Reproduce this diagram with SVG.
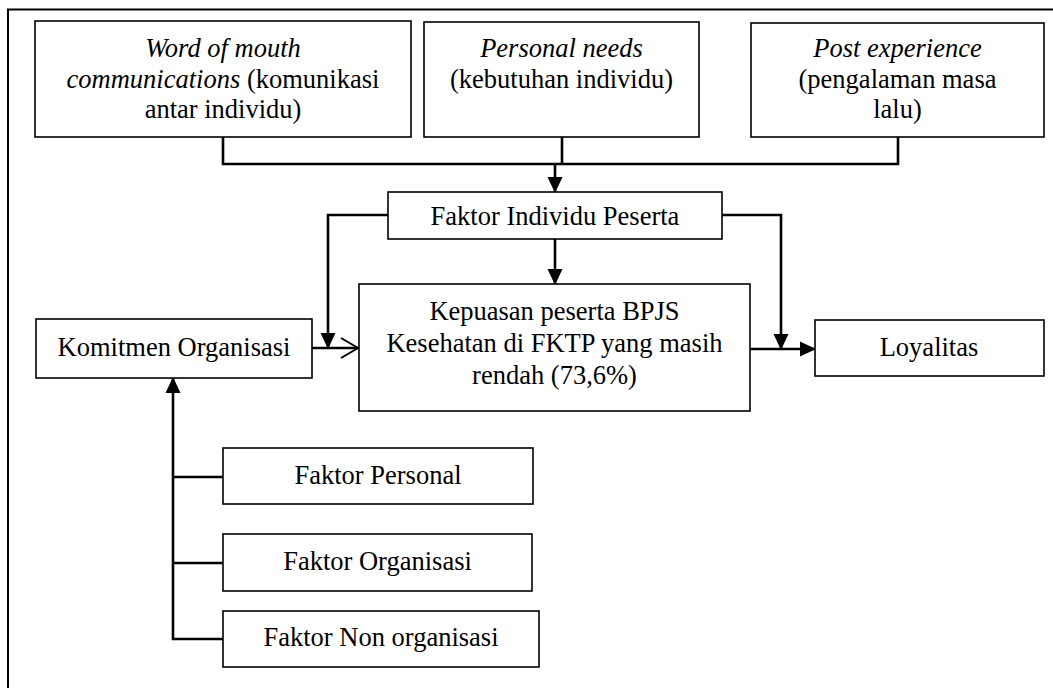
<svg xmlns="http://www.w3.org/2000/svg" width="1053" height="688" viewBox="0 0 1053 688">
<style>
.box{fill:#fff;stroke:#000;stroke-width:1.6}
.t{font-family:"Liberation Serif","Times New Roman",serif;font-size:26.5px;fill:#000;text-anchor:middle}
.i{font-style:italic}
.c{fill:none;stroke:#000;stroke-width:2.6}
</style>
<defs>
<marker id="ah" markerWidth="16" markerHeight="16" refX="15" refY="8" orient="auto" markerUnits="userSpaceOnUse" viewBox="0 0 16 16">
<path d="M0,0.5 L16,8 L0,15.5 Z" fill="#000"/>
</marker>
<marker id="open" markerWidth="20" markerHeight="22" refX="18" refY="11" orient="auto" markerUnits="userSpaceOnUse" viewBox="0 0 20 22">
<path d="M1,1 L18,11 L1,21" fill="none" stroke="#000" stroke-width="2"/>
</marker>
</defs>
<rect width="1053" height="688" fill="#fff"/>
<g id="frame"><path d="M8,688 V9.5 H1053" fill="none" stroke="#000" stroke-width="2"/></g>
<g id="connectors">
<path class="c" d="M223,137 V164 H898 V137"/>
<path class="c" d="M562,137 V164"/>
<path class="c" d="M555,164 V192" marker-end="url(#ah)"/>
<path class="c" d="M555,239 V284" marker-end="url(#ah)"/>
<path class="c" d="M388,215 H328 V348" marker-end="url(#ah)"/>
<path class="c" d="M722,215 H781 V349" marker-end="url(#ah)"/>
<path class="c" d="M312,348 H358" marker-end="url(#open)" stroke-width="2.2"/>
<path class="c" d="M750,349 H815" marker-end="url(#ah)"/>
<path class="c" d="M223,639 H173 V378" marker-end="url(#ah)"/>
<path class="c" d="M223,477 H173"/>
<path class="c" d="M223,563 H173"/>
</g>
<g id="n1"><rect class="box" x="35" y="21" width="376" height="116"/>
<text class="t" x="223" y="57"><tspan class="i">Word of mouth</tspan></text>
<text class="t" x="223" y="88"><tspan class="i">communications</tspan> (komunikasi</text>
<text class="t" x="223" y="118">antar individu)</text></g>
<g id="n2"><rect class="box" x="424" y="22" width="275" height="115"/>
<text class="t i" x="561.5" y="57">Personal needs</text>
<text class="t" x="561.5" y="88">(kebutuhan individu)</text></g>
<g id="n3"><rect class="box" x="751" y="23" width="293" height="114"/>
<text class="t i" x="897.5" y="57">Post experience</text>
<text class="t" x="897.5" y="88">(pengalaman masa</text>
<text class="t" x="897.5" y="118">lalu)</text></g>
<g id="n4"><rect class="box" x="388" y="192" width="334" height="47"/>
<text class="t" x="555" y="225">Faktor Individu Peserta</text></g>
<g id="n5"><rect class="box" x="359" y="284" width="391" height="127"/>
<text class="t" x="554.5" y="320">Kepuasan peserta BPJS</text>
<text class="t" x="554.5" y="352">Kesehatan di FKTP yang masih</text>
<text class="t" x="554.5" y="384">rendah (73,6%)</text></g>
<g id="n6"><rect class="box" x="36" y="319" width="276" height="59"/>
<text class="t" x="174" y="356">Komitmen Organisasi</text></g>
<g id="n7"><rect class="box" x="815" y="320" width="229" height="56"/>
<text class="t" x="929" y="356">Loyalitas</text></g>
<g id="n8"><rect class="box" x="223" y="448" width="310" height="56"/>
<text class="t" x="378" y="484">Faktor Personal</text></g>
<g id="n9"><rect class="box" x="223" y="534" width="309" height="57"/>
<text class="t" x="377.5" y="570">Faktor Organisasi</text></g>
<g id="n10"><rect class="box" x="223" y="611" width="316" height="56"/>
<text class="t" x="381" y="646">Faktor Non organisasi</text></g>
</svg>
